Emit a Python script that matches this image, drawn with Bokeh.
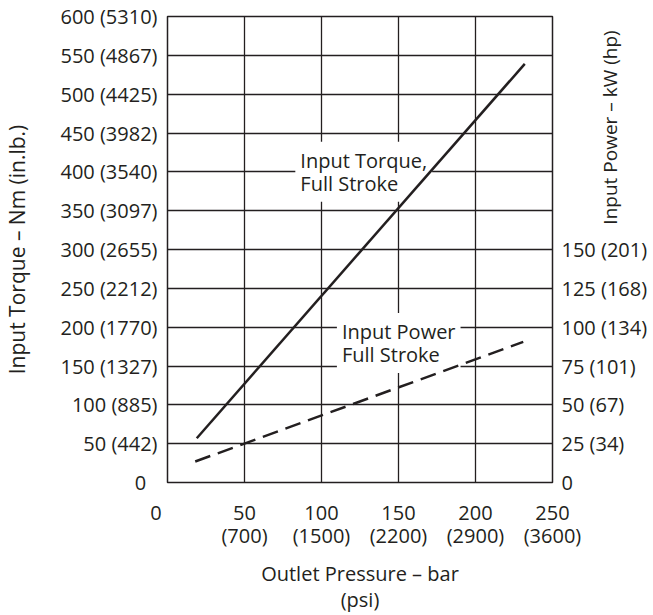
import math
from bokeh.plotting import figure
from bokeh.models import Range1d, LinearAxis, FixedTicker
from bokeh.core.properties import value
from bokeh.embed import file_html
from bokeh.resources import INLINE

# ---- data ----
pressure_ticks = [0, 50, 100, 150, 200, 250]
pressure_tick_labels = ["0\u2007\u2007", "50\n(700)", "100\n(1500)", "150\n(2200)", "200\n(2900)", "250\n(3600)"]
torque_ticks = [0, 50, 100, 150, 200, 250, 300, 350, 400, 450, 500, 550, 600]
torque_tick_labels = ["0\u2007", "50 (442)", "100 (885)", "150 (1327)", "200 (1770)", "250 (2212)",
                      "300 (2655)", "350 (3097)", "400 (3540)", "450 (3982)", "500 (4425)",
                      "550 (4867)", "600 (5310)"]
power_ticks = [0, 25, 50, 75, 100, 125, 150]
power_tick_labels = ["0", "25 (34)", "50 (67)", "75 (101)", "100 (134)", "125 (168)", "150 (201)"]

torque_pressure = [19, 232]      # bar
torque_values = [57, 539]        # Nm
power_pressure = [18, 231]       # bar
power_values = [13.5, 90.5]      # kW

FONT = "Open Sans"
INK = "#231f20"

p = figure(width=653, height=615, output_backend="svg", toolbar_location=None,
           x_range=Range1d(0, 250), y_range=Range1d(0, 600))
p.min_border_left = 167
p.min_border_right = 101
p.min_border_top = 16
p.min_border_bottom = 126
p.background_fill_color = "white"
p.border_fill_color = "white"
p.outline_line_color = INK
p.outline_line_width = 1.5
p.extra_y_ranges = {"power": Range1d(0, 300)}

# axes
p.xaxis.ticker = FixedTicker(ticks=pressure_ticks)
p.xaxis.major_label_overrides = dict(zip(pressure_ticks, pressure_tick_labels))
p.xaxis.axis_label = "Outlet Pressure \u2013 bar\n(psi)"
p.xaxis.axis_label_standoff = 8
p.xaxis.major_label_standoff = 16

p.yaxis.ticker = FixedTicker(ticks=torque_ticks)
p.yaxis.major_label_overrides = dict(zip(torque_ticks, torque_tick_labels))
p.yaxis.major_label_standoff = 10
p.yaxis.axis_label = "Input Torque \u2013 Nm (in.lb.)"
p.yaxis.axis_label_standoff = 26

right = LinearAxis(y_range_name="power", ticker=FixedTicker(ticks=power_ticks))
right.major_label_overrides = dict(zip(power_ticks, power_tick_labels))
right.major_label_standoff = 9
right.axis_label = "\u2007\u2007\u2009Input Power \u2013 kW (hp)"
right.axis_label_standoff = -40
right.axis_label_orientation = math.pi / 2
right.axis_label_align = "center"
p.add_layout(right, "right")

for ax in [p.xaxis[0], p.yaxis[0], right]:
    ax.axis_line_color = None
    ax.major_tick_line_color = None
    ax.minor_tick_line_color = None
    ax.major_tick_out = 0
    ax.major_tick_in = 0
    ax.major_label_text_font = FONT
    ax.major_label_text_font_size = "20px"
    ax.major_label_text_color = INK
    ax.major_label_text_line_height = 0.88
    ax.axis_label_text_font = FONT
    ax.axis_label_text_font_size = "20px"
    ax.axis_label_text_font_style = "normal"
    ax.axis_label_text_color = INK
    ax.axis_label_text_line_height = 0.95
p.yaxis[0].axis_label_text_font_size = "21px"
right.axis_label_text_font_size = "19px"

p.xgrid.ticker = FixedTicker(ticks=pressure_ticks)
p.ygrid.ticker = FixedTicker(ticks=torque_ticks)
for g in [p.xgrid[0], p.ygrid[0]]:
    g.grid_line_color = INK
    g.grid_line_width = 1.3
    g.grid_line_alpha = 1.0

# in-plot text boxes
p.text(x=[83], y=[400], text=["Input Torque,\nFull Stroke"], text_font=value(FONT),
       text_font_size="20px", text_align="left", text_baseline="middle", text_color=INK,
       text_line_height=0.85, background_fill_color="white", padding=5)
p.text(x=[110], y=[179.6], text=["Input Power\nFull Stroke"], text_font=value(FONT),
       text_font_size="20px", text_align="left", text_baseline="middle", text_color=INK,
       text_line_height=0.85, background_fill_color="white", padding=5)

# data lines
p.line(torque_pressure, torque_values, line_color=INK, line_width=2.5)
p.line(power_pressure, power_values, y_range_name="power", line_color=INK, line_width=2.5,
       line_dash="16 8")

open("out.html", "w").write(file_html(p, INLINE))
